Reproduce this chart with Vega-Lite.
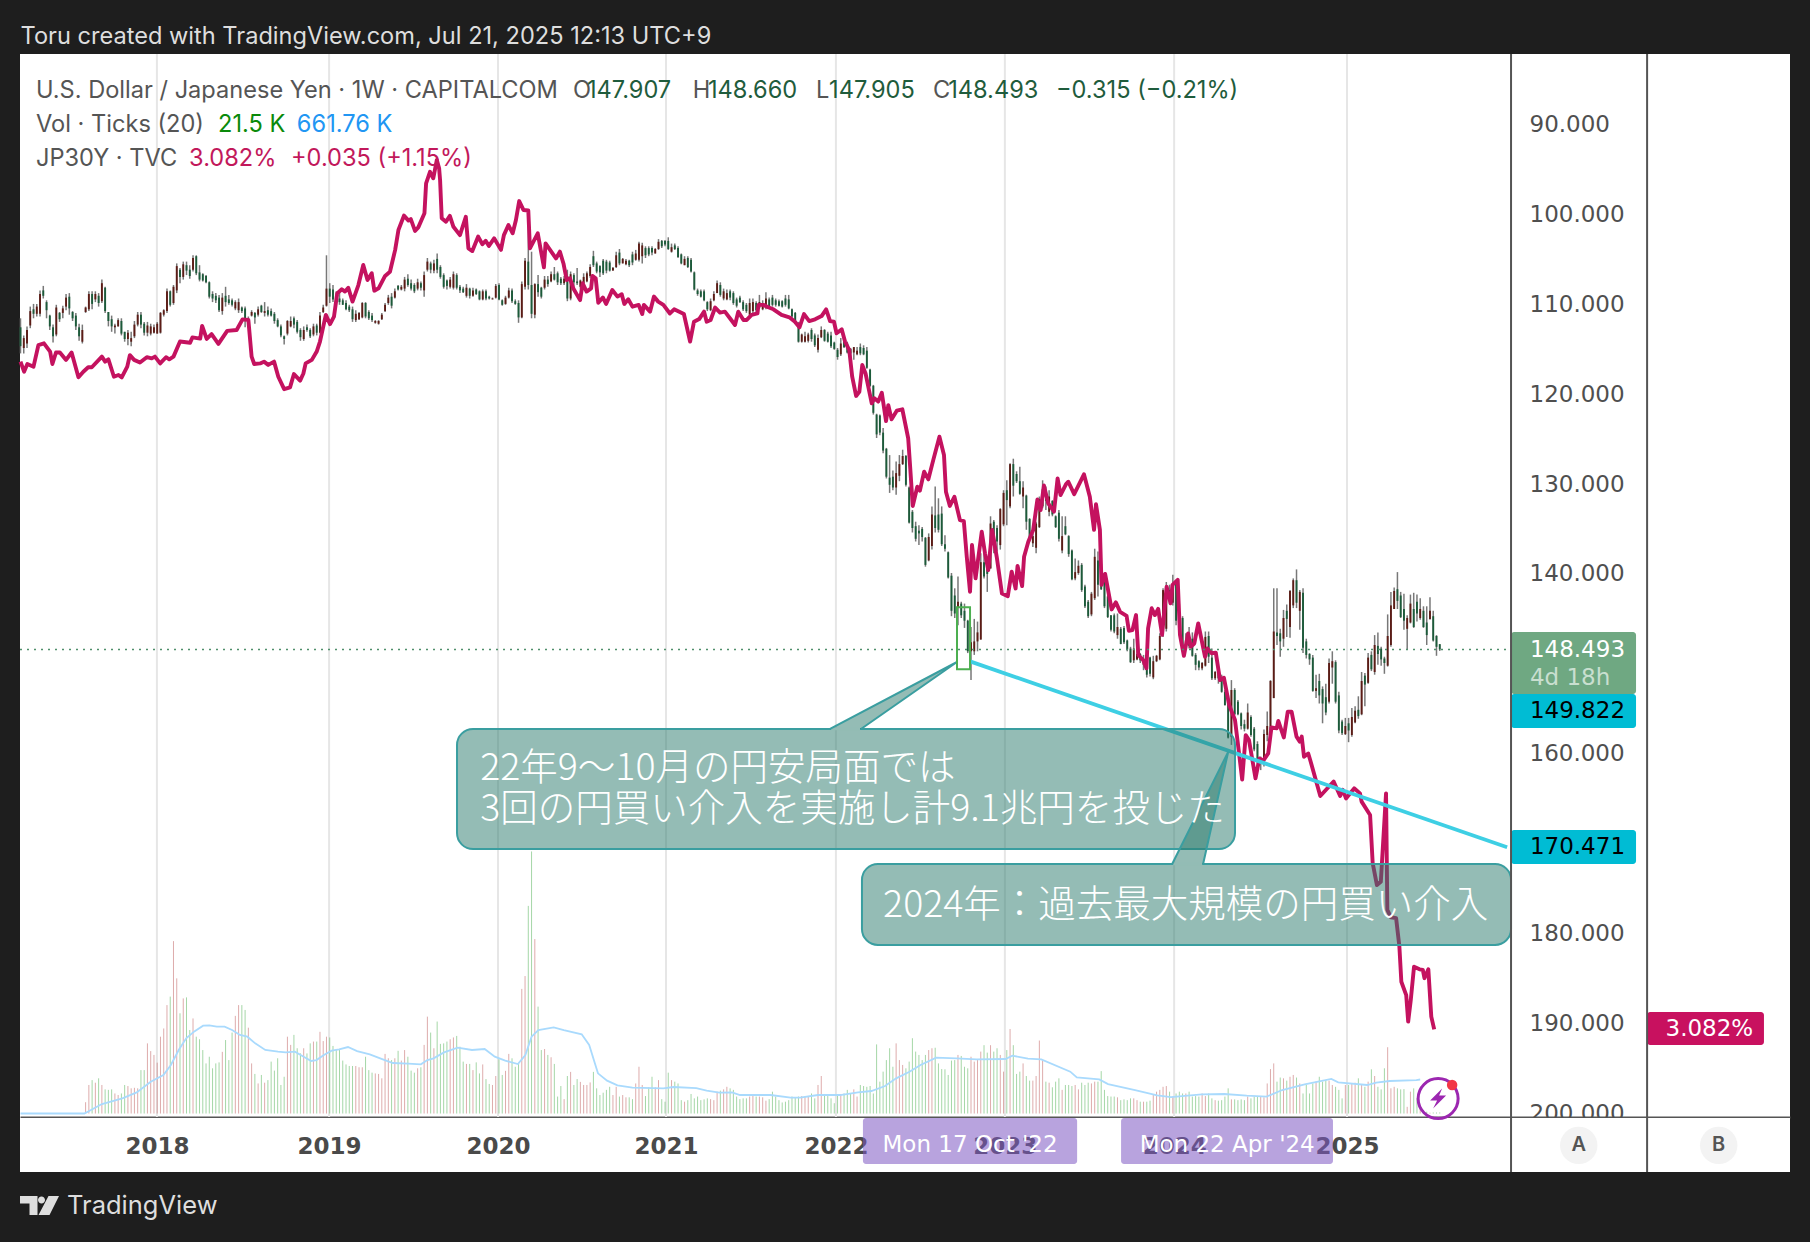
{"$schema":"https://vega.github.io/schema/vega-lite/v6.json","width":1770,"height":1118,"autosize":"none","padding":{"left":20,"top":54,"right":20,"bottom":70},"background":"#1e1e1e","view":{"fill":"#ffffff","stroke":null},"config":{"font":"Inter"},
"datasets":{"grid":[{"p":90},{"p":100},{"p":110},{"p":120},{"p":130},{"p":140},{"p":150},{"p":160},{"p":170},{"p":180},{"p":190},{"p":200}],
"xgrid":[{"w":41.9},{"w":94.8},{"w":146.7},{"w":198.3},{"w":250.5},{"w":302.4},{"w":354.4},{"w":407.5}],
"weeks":[
{"w":0,"o":112.7,"h":115.6,"l":111.7,"c":114.8},{"w":1,"o":115,"h":115.6,"l":113.6,"c":113.9},{"w":2,"o":114.5,"h":115,"l":112.6,"c":113},{"w":3,"o":112.5,"h":112.8,"l":110.4,"c":110.9},{"w":4,"o":110.7,"h":111.7,"l":110.1,"c":111.2},{"w":5,"o":111.2,"h":111.5,"l":110.1,"c":110.4},{"w":6,"o":111.2,"h":111.5,"l":108.6,"c":109},{"w":7,"o":108.6,"h":109.5,"l":108.1,"c":109.2},{"w":8,"o":109.9,"h":111.7,"l":109.7,"c":110.8},{"w":9,"o":111.4,"h":113,"l":111.3,"c":112.6},
{"w":10,"o":112.7,"h":114.4,"l":112.4,"c":113.7},{"w":11,"o":113.5,"h":113.7,"l":110.2,"c":110.5},{"w":12,"o":111.1,"h":112.1,"l":111,"c":111.8},{"w":13,"o":111.1,"h":111.7,"l":110.3,"c":110.6},{"w":14,"o":110.4,"h":110.8,"l":109,"c":109.4},{"w":15,"o":109.3,"h":111.3,"l":108.9,"c":110.6},{"w":16,"o":111,"h":112,"l":110.9,"c":111.7},{"w":17,"o":111.4,"h":113,"l":111.1,"c":112.6},{"w":18,"o":112.7,"h":114.2,"l":112.3,"c":113.7},{"w":19,"o":114.3,"h":114.5,"l":112.4,"c":113},
{"w":20,"o":111,"h":111.1,"l":110.4,"c":110.5,"v":220},{"w":21,"o":110.7,"h":110.9,"l":108.7,"c":109,"v":555},{"w":22,"o":109,"h":110.7,"l":108.7,"c":110.1,"v":650},{"w":23,"o":109.6,"h":109.9,"l":108.7,"c":109,"v":600},{"w":24,"o":109.2,"h":110.4,"l":108.9,"c":110,"v":685},{"w":25,"o":109.8,"h":110,"l":107.4,"c":107.8,"v":555},{"w":26,"o":108.3,"h":111.1,"l":108.2,"c":110.9,"v":470},{"w":27,"o":111,"h":112.6,"l":111,"c":112,"v":460},{"w":28,"o":111.8,"h":113.2,"l":111.4,"c":112.6,"v":470},{"w":29,"o":112.7,"h":113.4,"l":112.3,"c":112.5,"v":390},
{"w":30,"o":112.6,"h":112.6,"l":111.7,"c":111.9,"v":360},{"w":31,"o":112,"h":113.6,"l":111.7,"c":113.4,"v":390},{"w":32,"o":113.2,"h":114.3,"l":113.2,"c":114,"v":555},{"w":33,"o":114,"h":114.7,"l":113,"c":113.3,"v":535},{"w":34,"o":114.3,"h":114.8,"l":113.2,"c":113.9,"v":490},{"w":35,"o":113.7,"h":113.9,"l":112,"c":112.4,"v":500},{"w":36,"o":112.4,"h":112.6,"l":111,"c":111.3,"v":490},{"w":37,"o":111.3,"h":112.8,"l":111,"c":112.4,"v":845},{"w":38,"o":112.3,"h":113.6,"l":112.1,"c":113.3,"v":845},{"w":39,"o":113.3,"h":113.7,"l":112.1,"c":112.5,"v":1365},
{"w":40,"o":113.4,"h":113.6,"l":112.3,"c":112.6,"v":1215},{"w":41,"o":113.3,"h":113.4,"l":112.4,"c":112.7,"v":1140},{"w":42,"o":113.4,"h":113.4,"l":112.1,"c":112.3,"v":990},{"w":43,"o":113.3,"h":113.4,"l":111,"c":111.1,"v":1495},{"w":44,"o":111.3,"h":111.5,"l":110.7,"c":110.8,"v":1655},{"w":45,"o":110.9,"h":111.1,"l":108.4,"c":108.7,"v":2110},{"w":46,"o":108.7,"h":110.4,"l":108.6,"c":110.2,"v":2275},{"w":47,"o":110,"h":110.2,"l":108,"c":108.2,"v":3355},{"w":48,"o":108.6,"h":108.9,"l":105.6,"c":105.9,"v":2630},{"w":49,"o":106.3,"h":107.8,"l":106.1,"c":107.1,"v":1950},
{"w":50,"o":107.1,"h":107.4,"l":105.4,"c":105.7,"v":2240},{"w":51,"o":105.8,"h":106.9,"l":105.4,"c":106.4,"v":2260},{"w":52,"o":106.3,"h":107.3,"l":105.8,"c":107,"v":1625},{"w":53,"o":106.3,"h":106.5,"l":104.7,"c":105,"v":1850},{"w":54,"o":104.8,"h":106.9,"l":104.7,"c":106.7,"v":1495},{"w":55,"o":106.6,"h":107.6,"l":105.8,"c":107.4,"v":1445},{"w":56,"o":106.8,"h":107.6,"l":106.7,"c":107.5,"v":1235},{"w":57,"o":107,"h":107.8,"l":106.9,"c":107.7,"v":975},{"w":58,"o":107.7,"h":109.5,"l":107.6,"c":109.3,"v":1105},{"w":59,"o":109,"h":109.9,"l":108.7,"c":109.5,"v":880},
{"w":60,"o":109.2,"h":110,"l":108.9,"c":109.7,"v":975},{"w":61,"o":109.4,"h":111,"l":109.1,"c":110.8,"v":995},{"w":62,"o":110.9,"h":111.3,"l":108.9,"c":109.4,"v":1200},{"w":63,"o":109.2,"h":110.4,"l":108.2,"c":109.9,"v":1430},{"w":64,"o":109.6,"h":110.2,"l":109.1,"c":110,"v":1040},{"w":65,"o":109.7,"h":110.4,"l":109.5,"c":110.2,"v":1575},{"w":66,"o":110.6,"h":110.8,"l":109.7,"c":109.9,"v":1900},{"w":67,"o":110.8,"h":111.1,"l":109.5,"c":109.9,"v":2110},{"w":68,"o":110.5,"h":111.1,"l":110.4,"c":110.9,"v":2110},{"w":69,"o":110.6,"h":112.7,"l":110.4,"c":112,"v":2015},
{"w":70,"o":112.2,"h":112.7,"l":111.5,"c":111.8,"v":1670},{"w":71,"o":111.4,"h":111.5,"l":110.8,"c":111,"v":975},{"w":72,"o":111.1,"h":112.3,"l":111,"c":111.6,"v":770},{"w":73,"o":111.3,"h":111.5,"l":110.4,"c":110.7,"v":585},{"w":74,"o":110.3,"h":111.1,"l":110.2,"c":111,"v":750},{"w":75,"o":111.1,"h":111.5,"l":109.9,"c":110.9,"v":600},{"w":76,"o":110.8,"h":111.5,"l":110.4,"c":111.3,"v":650},{"w":77,"o":110.9,"h":111.5,"l":110.6,"c":111.4,"v":1010},{"w":78,"o":111.2,"h":112.3,"l":111,"c":112,"v":835},{"w":79,"o":111.9,"h":112.7,"l":111.7,"c":112.6,"v":1075},
{"w":80,"o":112.6,"h":113.8,"l":112.4,"c":113.6,"v":555},{"w":81,"o":113.7,"h":114.6,"l":113.6,"c":114,"v":715},{"w":82,"o":113.4,"h":113.6,"l":111.9,"c":112,"v":1495},{"w":83,"o":112.6,"h":112.7,"l":111.5,"c":112,"v":1335},{"w":84,"o":111.7,"h":112.8,"l":111.5,"c":112.4,"v":1530},{"w":85,"o":112.1,"h":113.4,"l":111.9,"c":113.2,"v":1270},{"w":86,"o":113,"h":114.2,"l":112.8,"c":113.8,"v":1170},{"w":87,"o":114,"h":114.2,"l":112.6,"c":113,"v":1270},{"w":88,"o":112.7,"h":113.2,"l":112.4,"c":113,"v":1170},{"w":89,"o":113,"h":113.9,"l":112.8,"c":113.7,"v":1365},
{"w":90,"o":113.5,"h":113.7,"l":112.3,"c":112.6,"v":1400},{"w":91,"o":112.5,"h":113.6,"l":112.3,"c":113.3,"v":1400},{"w":92,"o":113.3,"h":113.4,"l":111,"c":111.4,"v":1590},{"w":93,"o":111,"h":111.1,"l":110.2,"c":110.5,"v":1410},{"w":94,"o":110.3,"h":110.4,"l":104.7,"c":108.4,"v":1495},{"w":95,"o":108.4,"h":110,"l":107.8,"c":109.3,"v":1480},{"w":96,"o":108.5,"h":109.9,"l":108,"c":109.6,"v":1315},{"w":97,"o":109.3,"h":109.9,"l":108.7,"c":109.8,"v":1235},{"w":98,"o":109.5,"h":110.2,"l":108.6,"c":109.9,"v":1235},{"w":99,"o":109.7,"h":110.2,"l":109.5,"c":110.2,"v":1030},
{"w":100,"o":110,"h":110.8,"l":109.7,"c":110.7,"v":955},{"w":101,"o":110.4,"h":111,"l":110.2,"c":110.8,"v":925},{"w":102,"o":110.7,"h":112.1,"l":110.4,"c":111.8,"v":925},{"w":103,"o":111.9,"h":112.1,"l":110.8,"c":111.2,"v":925},{"w":104,"o":111.8,"h":111.9,"l":111,"c":111.1,"v":900},{"w":105,"o":111.6,"h":111.7,"l":109.9,"c":110,"v":900},{"w":106,"o":110,"h":111.7,"l":109.9,"c":111.5,"v":1105},{"w":107,"o":111,"h":111.9,"l":110.8,"c":111.7,"v":845},{"w":108,"o":111.4,"h":112.1,"l":111.1,"c":111.9,"v":795},{"w":109,"o":112.2,"h":112.3,"l":111.9,"c":112,"v":780},
{"w":110,"o":112.3,"h":112.4,"l":111.9,"c":112,"v":770},{"w":111,"o":111.8,"h":111.9,"l":111.1,"c":111.3,"v":685},{"w":112,"o":110.9,"h":111,"l":110,"c":110.2,"v":1160},{"w":113,"o":110,"h":110.2,"l":109.1,"c":109.4,"v":1075},{"w":114,"o":109.3,"h":110.6,"l":108.9,"c":110.3,"v":1040},{"w":115,"o":109.4,"h":109.5,"l":108.4,"c":108.7,"v":1075},{"w":116,"o":108.1,"h":108.6,"l":108,"c":108.5,"v":1220},{"w":117,"o":108.5,"h":108.6,"l":108,"c":108.2,"v":1030},{"w":118,"o":108.4,"h":108.7,"l":107.1,"c":107.4,"v":1235},{"w":119,"o":107.3,"h":108.2,"l":106.8,"c":108,"v":1105},
{"w":120,"o":107.8,"h":108.6,"l":107.4,"c":108.4,"v":835},{"w":121,"o":108,"h":108.9,"l":107.8,"c":108.7,"v":795},{"w":122,"o":108.4,"h":108.6,"l":107.3,"c":107.7,"v":880},{"w":123,"o":107.8,"h":108.6,"l":107.6,"c":108.3,"v":900},{"w":124,"o":108.6,"h":109.3,"l":106.5,"c":106.9,"v":1335},{"w":125,"o":106.3,"h":106.5,"l":105,"c":105.4,"v":1885},{"w":126,"o":105.6,"h":106.7,"l":105.4,"c":106.3,"v":1575},{"w":127,"o":106.4,"h":106.7,"l":105.2,"c":105.6,"v":1270},{"w":128,"o":105.1,"h":106.7,"l":104.5,"c":106.3,"v":1790},{"w":129,"o":106,"h":107.3,"l":105.8,"c":107.1,"v":1355},
{"w":130,"o":106.9,"h":108.4,"l":106.7,"c":108.2,"v":1365},{"w":131,"o":107.5,"h":108.5,"l":107.4,"c":108.1,"v":1400},{"w":132,"o":108.2,"h":108.4,"l":107.1,"c":107.4,"v":1445},{"w":133,"o":108.3,"h":108.5,"l":106.5,"c":106.8,"v":1480},{"w":134,"o":106.9,"h":108.5,"l":106.7,"c":108.3,"v":1510},{"w":135,"o":108.2,"h":108.9,"l":108,"c":108.6,"v":1300},{"w":136,"o":108.4,"h":108.9,"l":108.2,"c":108.8,"v":1010},{"w":137,"o":109.2,"h":109.4,"l":107.9,"c":108.3,"v":965},{"w":138,"o":108.4,"h":109.5,"l":108.3,"c":109.2,"v":965},{"w":139,"o":109.2,"h":109.3,"l":108.3,"c":108.6,"v":845},
{"w":140,"o":108.5,"h":109.1,"l":108.4,"c":109,"v":995},{"w":141,"o":108.7,"h":109.7,"l":108.6,"c":109.6,"v":780},{"w":142,"o":109.6,"h":109.7,"l":108.5,"c":108.7,"v":955},{"w":143,"o":108.7,"h":109.7,"l":108.5,"c":109.5,"v":670},{"w":144,"o":109.3,"h":109.6,"l":109.2,"c":109.5,"v":575},{"w":145,"o":109.6,"h":109.6,"l":109.4,"c":109.5,"v":555},{"w":146,"o":109.4,"h":109.5,"l":107.9,"c":108.1,"v":730},{"w":147,"o":108,"h":109.7,"l":107.8,"c":109.6,"v":1055},{"w":148,"o":109.7,"h":110.3,"l":109.6,"c":110.2,"v":750},{"w":149,"o":110.1,"h":110.2,"l":109.2,"c":109.4,"v":830},
{"w":150,"o":109.4,"h":109.5,"l":108.3,"c":108.6,"v":1160},{"w":151,"o":108.6,"h":110,"l":108.4,"c":109.8,"v":1075},{"w":152,"o":109.8,"h":110.2,"l":109.6,"c":110.1,"v":910},{"w":153,"o":110,"h":112.2,"l":109.7,"c":111.6,"v":975},{"w":154,"o":111.6,"h":111.7,"l":107.6,"c":107.9,"v":2425},{"w":155,"o":108.2,"h":108.5,"l":105,"c":105.3,"v":2675},{"w":156,"o":105.4,"h":108.5,"l":101.1,"c":108,"v":4040},{"w":157,"o":108,"h":111.7,"l":104.3,"c":111.2,"v":5100},{"w":158,"o":111.3,"h":111.7,"l":107.8,"c":107.9,"v":3395},{"w":159,"o":107.9,"h":109.3,"l":106.9,"c":108.8,"v":2080},
{"w":160,"o":108.3,"h":109.5,"l":108.2,"c":109.3,"v":1235},{"w":161,"o":108.3,"h":108.5,"l":107,"c":107.4,"v":1255},{"w":162,"o":107.4,"h":108.2,"l":107,"c":107.9,"v":1140},{"w":163,"o":107.6,"h":107.7,"l":106.5,"c":106.8,"v":1095},{"w":164,"o":106.8,"h":107.5,"l":106,"c":107.4,"v":965},{"w":165,"o":106.7,"h":108,"l":106.5,"c":107.7,"v":330},{"w":166,"o":107.3,"h":108,"l":107.1,"c":107.8,"v":535},{"w":167,"o":107.8,"h":108,"l":107,"c":107.3,"v":280},{"w":168,"o":107,"h":109.8,"l":106.3,"c":109.5,"v":730},{"w":169,"o":109.5,"h":109.7,"l":106.5,"c":106.8,"v":810},
{"w":170,"o":106.9,"h":108.5,"l":106.7,"c":107.7,"v":555},{"w":171,"o":107.6,"h":108,"l":106.1,"c":107.8,"v":670},{"w":172,"o":108.2,"h":108.4,"l":107.4,"c":107.5,"v":615},{"w":173,"o":107.8,"h":108,"l":106.7,"c":107.1,"v":555},{"w":174,"o":107.6,"h":107.7,"l":106.5,"c":106.7,"v":555},{"w":175,"o":107,"h":107.2,"l":105.7,"c":106,"v":605},{"w":176,"o":104.8,"h":106,"l":104.2,"c":105.8,"v":810},{"w":177,"o":105.6,"h":106.7,"l":105.4,"c":106.5,"v":490},{"w":178,"o":105.9,"h":107.1,"l":105.8,"c":106.6,"v":360},{"w":179,"o":105.3,"h":106.9,"l":105.1,"c":106.7,"v":405},
{"w":180,"o":105.4,"h":106.7,"l":105.2,"c":106.4,"v":460},{"w":181,"o":105.5,"h":106.5,"l":105.3,"c":106.4,"v":520},{"w":182,"o":106.4,"h":106.4,"l":106,"c":106.1,"v":360},{"w":183,"o":106,"h":106.1,"l":104.3,"c":104.7,"v":520},{"w":184,"o":104.4,"h":105.8,"l":104,"c":105.6,"v":330},{"w":185,"o":105.6,"h":105.6,"l":105,"c":105.1,"v":360},{"w":186,"o":105.7,"h":105.8,"l":105.1,"c":105.3,"v":315},{"w":187,"o":105.3,"h":106,"l":105.2,"c":105.8,"v":315},{"w":188,"o":104.6,"h":105.8,"l":104.3,"c":105.5,"v":280},{"w":189,"o":105.2,"h":105.3,"l":104.1,"c":104.5,"v":585},
{"w":190,"o":105.2,"h":105.4,"l":103.2,"c":103.4,"v":910},{"w":191,"o":104.8,"h":105.6,"l":103.3,"c":103.6,"v":555},{"w":192,"o":103.9,"h":105,"l":103.7,"c":104.7,"v":340},{"w":193,"o":103.9,"h":104.8,"l":103.7,"c":104.6,"v":510},{"w":194,"o":103.9,"h":104.7,"l":103.7,"c":104.4,"v":715},{"w":195,"o":104.5,"h":104.5,"l":103.9,"c":104,"v":510},{"w":196,"o":104,"h":104.1,"l":102.9,"c":103.2,"v":650},{"w":197,"o":103.1,"h":103.9,"l":103,"c":103.7,"v":280},{"w":198,"o":103.1,"h":103.7,"l":103,"c":103.5,"v":230},{"w":199,"o":103.1,"h":104.1,"l":102.7,"c":104,"v":795},
{"w":200,"o":104.3,"h":104.4,"l":103.4,"c":103.8,"v":650},{"w":201,"o":103.6,"h":104.1,"l":103.4,"c":104,"v":620},{"w":202,"o":103.9,"h":105,"l":103.7,"c":104.9,"v":585},{"w":203,"o":104.6,"h":105.7,"l":104.5,"c":105.6,"v":260},{"w":204,"o":105.8,"h":105.8,"l":104.8,"c":105.1,"v":230},{"w":205,"o":105,"h":106.1,"l":104.8,"c":106,"v":260},{"w":206,"o":105.2,"h":106.6,"l":105,"c":106.5,"v":380},{"w":207,"o":106.6,"h":108.6,"l":106.5,"c":108.5,"v":295},{"w":208,"o":108.6,"h":109.2,"l":108.4,"c":109,"v":330},{"w":209,"o":108.7,"h":109.4,"l":108.5,"c":109.3,"v":260},
{"w":210,"o":108.7,"h":109.8,"l":108.5,"c":109.7,"v":275},{"w":211,"o":109.9,"h":110.9,"l":109.8,"c":110.7,"v":295},{"w":212,"o":110.8,"h":110.9,"l":109.5,"c":109.8,"v":280},{"w":213,"o":109.7,"h":109.8,"l":108.7,"c":109,"v":260},{"w":214,"o":108.9,"h":108.9,"l":107.5,"c":107.8,"v":425},{"w":215,"o":108,"h":109.3,"l":107.7,"c":109.1,"v":445},{"w":216,"o":109.5,"h":109.7,"l":108.4,"c":108.7,"v":470},{"w":217,"o":109.6,"h":109.7,"l":108.5,"c":108.9,"v":520},{"w":218,"o":108.7,"h":109.7,"l":108.5,"c":109.4,"v":490},{"w":219,"o":108.9,"h":110.2,"l":108.7,"c":110,"v":460},
{"w":220,"o":109.6,"h":110.5,"l":109.4,"c":110.3,"v":330},{"w":221,"o":109.4,"h":110,"l":109.2,"c":109.9,"v":280},{"w":222,"o":109.9,"h":110.9,"l":109.7,"c":110.7,"v":295},{"w":223,"o":110.2,"h":111.1,"l":110,"c":110.9,"v":295},{"w":224,"o":111.3,"h":111.7,"l":109.5,"c":110,"v":330},{"w":225,"o":110.9,"h":111.1,"l":109.5,"c":109.9,"v":360},{"w":226,"o":110,"h":111.1,"l":109.8,"c":110.8,"v":330},{"w":227,"o":110.5,"h":110.6,"l":109.1,"c":109.9,"v":330},{"w":228,"o":110.7,"h":110.8,"l":109.7,"c":110,"v":315},{"w":229,"o":110.5,"h":110.7,"l":108.8,"c":109.5,"v":250},
{"w":230,"o":109.6,"h":110.5,"l":109.4,"c":110.4,"v":280},{"w":231,"o":109.4,"h":110.4,"l":109.1,"c":110.2,"v":425},{"w":232,"o":109.7,"h":110.4,"l":109.5,"c":110.2,"v":330},{"w":233,"o":109.8,"h":110.4,"l":109.6,"c":110.3,"v":260},{"w":234,"o":109.8,"h":110.5,"l":109.7,"c":110.4,"v":215},{"w":235,"o":109.5,"h":110.4,"l":109.1,"c":110.2,"v":230},{"w":236,"o":109.6,"h":110.7,"l":109.1,"c":110.6,"v":260},{"w":237,"o":110.7,"h":111.7,"l":110.6,"c":111.5,"v":330},{"w":238,"o":111.1,"h":112.3,"l":111,"c":112.2,"v":315},{"w":239,"o":112.3,"h":114.4,"l":112.1,"c":114.3,"v":330},
{"w":240,"o":114.3,"h":114.4,"l":113.4,"c":113.5,"v":340},{"w":241,"o":114.3,"h":114.4,"l":113.2,"c":113.7,"v":340},{"w":242,"o":114.2,"h":114.4,"l":113.3,"c":113.5,"v":330},{"w":243,"o":113,"h":114.3,"l":112.8,"c":114,"v":390},{"w":244,"o":113.6,"h":114.9,"l":113.4,"c":114.7,"v":295},{"w":245,"o":115.2,"h":115.5,"l":113.5,"c":113.9,"v":555},{"w":246,"o":113.8,"h":113.9,"l":112.6,"c":113,"v":730},{"w":247,"o":113,"h":114.3,"l":112.9,"c":114.2,"v":380},{"w":248,"o":113.4,"h":114.4,"l":113.2,"c":114.3,"v":340},{"w":249,"o":113.6,"h":115,"l":113.2,"c":114.8,"v":295},
{"w":250,"o":114.4,"h":115.2,"l":114.3,"c":115.1,"v":200},{"w":251,"o":115.2,"h":116.3,"l":115,"c":116,"v":360},{"w":252,"o":115.7,"h":115.9,"l":113.9,"c":114.5,"v":380},{"w":253,"o":114.2,"h":115,"l":114.1,"c":114.9,"v":390},{"w":254,"o":114.5,"h":115.6,"l":114.3,"c":115.5,"v":460},{"w":255,"o":115.1,"h":116.3,"l":115,"c":115.6,"v":390},{"w":256,"o":115.5,"h":116.3,"l":114.9,"c":114.9,"v":470},{"w":257,"o":115.7,"h":115.8,"l":114.9,"c":115.3,"v":330},{"w":258,"o":114.9,"h":115.8,"l":114.5,"c":115.6,"v":555},{"w":259,"o":115,"h":115.8,"l":114.7,"c":115.7,"v":535},
{"w":260,"o":115.3,"h":117.3,"l":114.9,"c":117.2,"v":520},{"w":261,"o":117.4,"h":119.3,"l":117.3,"c":119.2,"v":535},{"w":262,"o":119.2,"h":122.4,"l":119.1,"c":122.2,"v":390},{"w":263,"o":122.4,"h":125,"l":122.3,"c":124.6,"v":1345},{"w":264,"o":122.5,"h":124.7,"l":122.4,"c":124.4,"v":620},{"w":265,"o":124.4,"h":126.7,"l":123.9,"c":126.4,"v":815},{"w":266,"o":126.2,"h":129.5,"l":126.1,"c":129.3,"v":1040},{"w":267,"o":129.4,"h":131.1,"l":126.9,"c":130.2,"v":1270},{"w":268,"o":129.3,"h":130.8,"l":128.6,"c":130.5,"v":910},{"w":269,"o":130.5,"h":131.3,"l":127.6,"c":128.9,"v":1365},
{"w":270,"o":129.2,"h":129.8,"l":126.9,"c":127.9,"v":1040},{"w":271,"o":127.9,"h":128,"l":126.3,"c":127,"v":945},{"w":272,"o":127,"h":130.4,"l":126.9,"c":130.2,"v":880},{"w":273,"o":130.5,"h":134.5,"l":130.4,"c":134.4,"v":1010},{"w":274,"o":133.2,"h":135.5,"l":133,"c":135,"v":1465},{"w":275,"o":134.8,"h":136.5,"l":134.3,"c":136.2,"v":1205},{"w":276,"o":135.3,"h":136.9,"l":134.7,"c":135.6,"v":1140},{"w":277,"o":135.1,"h":136.5,"l":134.9,"c":136,"v":1040},{"w":278,"o":136.1,"h":139.3,"l":136,"c":139.1,"v":1140},{"w":279,"o":138.6,"h":138.7,"l":135.6,"c":136,"v":1235},
{"w":280,"o":137,"h":137.4,"l":132.6,"c":133.5,"v":1270},{"w":281,"o":133.6,"h":135.5,"l":130.4,"c":135,"v":1280},{"w":282,"o":133.5,"h":135.5,"l":131.7,"c":135.2,"v":975},{"w":283,"o":133.4,"h":137,"l":132.6,"c":136.8,"v":865},{"w":284,"o":136.8,"h":137.6,"l":135.8,"c":137.3,"v":860},{"w":285,"o":137.7,"h":140.6,"l":137.6,"c":140.5,"v":750},{"w":286,"o":140.3,"h":144.8,"l":140,"c":144.2,"v":1030},{"w":287,"o":142.5,"h":145,"l":141.7,"c":144.5,"v":1040},{"w":288,"o":143.8,"h":145.8,"l":140.4,"c":143.2,"v":1140},{"w":289,"o":143.4,"h":145,"l":143.2,"c":144.7,"v":1120},
{"w":290,"o":144.2,"h":146.1,"l":143.4,"c":145.3,"v":910},{"w":291,"o":145.3,"h":148.9,"l":145.2,"c":148.7,"v":880},{"w":292,"o":148.7,"h":151.9,"l":146,"c":147.7,"v":1105},{"w":293,"o":148.7,"h":149.1,"l":145.1,"c":147.6,"v":1010},{"w":294,"o":147.6,"h":148.7,"l":145.4,"c":146.6,"v":1040},{"w":295,"o":147.4,"h":147.4,"l":137.8,"c":138.8,"v":1205},{"w":296,"o":138.8,"h":140.6,"l":137.6,"c":140.4,"v":1330},{"w":297,"o":138.9,"h":142.1,"l":138.2,"c":140.1,"v":1185},{"w":298,"o":139.5,"h":139.5,"l":133.7,"c":134.5,"v":1330},{"w":299,"o":134.3,"h":137.8,"l":134.1,"c":136.7,"v":1205},
{"w":300,"o":135,"h":137.6,"l":134.7,"c":136.5,"v":1270},{"w":301,"o":136.9,"h":137.4,"l":132.8,"c":132.9,"v":1140},{"w":302,"o":134.6,"h":134.8,"l":130.8,"c":131.1,"v":815},{"w":303,"o":130.8,"h":134.7,"l":129.7,"c":131.9,"v":1235},{"w":304,"o":132.6,"h":132.8,"l":127.8,"c":127.9,"v":1645},{"w":305,"o":127.9,"h":131.5,"l":127.3,"c":130.3,"v":1330},{"w":306,"o":129,"h":130,"l":128.7,"c":129.8,"v":770},{"w":307,"o":129.8,"h":131.3,"l":128.2,"c":131.2,"v":815},{"w":308,"o":131.5,"h":132.8,"l":129.8,"c":130.5,"v":975},{"w":309,"o":131.4,"h":135.2,"l":131.3,"c":134.3,"v":730},
{"w":310,"o":134,"h":136.5,"l":133.9,"c":136.3,"v":640},{"w":311,"o":136.7,"h":137.1,"l":135.6,"c":135.9,"v":640},{"w":312,"o":137.2,"h":137.8,"l":134.3,"c":134.5,"v":730},{"w":313,"o":134.9,"h":135,"l":131.5,"c":131.8,"v":1420},{"w":314,"o":132.6,"h":132.8,"l":129.7,"c":130.7,"v":1030},{"w":315,"o":130.8,"h":133,"l":130.4,"c":132,"v":620},{"w":316,"o":133.2,"h":133.7,"l":130.8,"c":131.5,"v":600},{"w":317,"o":132,"h":133.7,"l":131.9,"c":133.5,"v":510},{"w":318,"o":133.7,"h":135,"l":133.6,"c":134.9,"v":620},{"w":319,"o":133.3,"h":136.5,"l":133,"c":136.2,"v":685},
{"w":320,"o":137.5,"h":137.8,"l":133.7,"c":135.9,"v":460},{"w":321,"o":134.8,"h":135.8,"l":133.7,"c":135.7,"v":555},{"w":322,"o":135.9,"h":138.2,"l":135.8,"c":137.9,"v":555},{"w":323,"o":137.5,"h":140.8,"l":137.4,"c":140.7,"v":535},{"w":324,"o":140.6,"h":140.8,"l":138.4,"c":139.9,"v":555},{"w":325,"o":140,"h":140.2,"l":138.6,"c":139.2,"v":470},{"w":326,"o":139.1,"h":142.1,"l":138.9,"c":141.9,"v":600},{"w":327,"o":141.5,"h":143.9,"l":141.3,"c":143.7,"v":555},{"w":328,"o":143.2,"h":145,"l":143,"c":144.8,"v":600},{"w":329,"o":144.6,"h":144.8,"l":142.1,"c":142.3,"v":585},
{"w":330,"o":142.8,"h":143,"l":137.3,"c":138.2,"v":620},{"w":331,"o":138.6,"h":142.6,"l":137.6,"c":141.3,"v":620},{"w":332,"o":139,"h":141.9,"l":138.2,"c":141.8,"v":825},{"w":333,"o":141,"h":143.9,"l":140.8,"c":143.7,"v":460},{"w":334,"o":142.6,"h":145,"l":142.4,"c":144.9,"v":340},{"w":335,"o":144.7,"h":146.5,"l":144.7,"c":146.3,"v":330},{"w":336,"o":144.7,"h":146.7,"l":144.5,"c":146.5,"v":330},{"w":337,"o":146.9,"h":147.3,"l":144.5,"c":146,"v":315},{"w":338,"o":146.2,"h":147.9,"l":146,"c":147.9,"v":260},{"w":339,"o":146.1,"h":147.9,"l":145.9,"c":147.7,"v":275},
{"w":340,"o":147.5,"h":148.7,"l":147.4,"c":148.5,"v":260},{"w":341,"o":148.4,"h":150,"l":148.2,"c":149.9,"v":295},{"w":342,"o":149.7,"h":150,"l":147.3,"c":148.4,"v":295},{"w":343,"o":149.6,"h":149.7,"l":148.2,"c":149,"v":260},{"w":344,"o":149,"h":150,"l":148.9,"c":149.7,"v":230},{"w":345,"o":150.2,"h":150.8,"l":149.1,"c":149.6,"v":230},{"w":346,"o":149.5,"h":151.6,"l":149.3,"c":151.3,"v":230},{"w":347,"o":149.4,"h":151.5,"l":149.3,"c":151.2,"v":250},{"w":348,"o":151.6,"h":151.8,"l":149.2,"c":149.8,"v":360},{"w":349,"o":149.8,"h":149.9,"l":149.1,"c":149.2,"v":425},
{"w":350,"o":149.6,"h":149.7,"l":146.7,"c":147,"v":460},{"w":351,"o":146.8,"h":147.1,"l":141.7,"c":141.9,"v":520},{"w":352,"o":146.2,"h":146.5,"l":141,"c":141.5,"v":535},{"w":353,"o":141.9,"h":143.4,"l":141.3,"c":143,"v":425},{"w":354,"o":143.3,"h":143.6,"l":140.2,"c":141.2,"v":330},{"w":355,"o":141,"h":145.8,"l":140.8,"c":145.3,"v":390},{"w":356,"o":144.8,"h":146.5,"l":143.4,"c":146.4,"v":425},{"w":357,"o":145,"h":148.4,"l":144.8,"c":148.2,"v":390},{"w":358,"o":148.3,"h":148.5,"l":146.7,"c":147.5,"v":390},{"w":359,"o":147,"h":148.4,"l":146,"c":148.1,"v":425},
{"w":360,"o":147.3,"h":149.3,"l":146.6,"c":149.2,"v":330},{"w":361,"o":149.1,"h":150.8,"l":148.9,"c":150.2,"v":340},{"w":362,"o":149.8,"h":150.8,"l":149.7,"c":150.5,"v":330},{"w":363,"o":150.6,"h":150.8,"l":149.9,"c":150,"v":390},{"w":364,"o":150.3,"h":150.4,"l":146.5,"c":147.1,"v":340},{"w":365,"o":147,"h":150,"l":146.5,"c":149.3,"v":390},{"w":366,"o":149.4,"h":151.9,"l":148.4,"c":151.7,"v":295},{"w":367,"o":151.7,"h":151.9,"l":150.9,"c":151,"v":260},{"w":368,"o":151.1,"h":152.3,"l":150.9,"c":151.7,"v":250},{"w":369,"o":151.6,"h":153.3,"l":151.3,"c":153.2,"v":260},
{"w":370,"o":153.2,"h":154.7,"l":153,"c":154.7,"v":330},{"w":371,"o":153.6,"h":158.4,"l":153.5,"c":158.3,"v":490},{"w":372,"o":158.2,"h":159.1,"l":151.9,"c":153,"v":275},{"w":373,"o":153,"h":155.8,"l":152.8,"c":155.7,"v":275},{"w":374,"o":154.3,"h":155.8,"l":154.1,"c":155.7,"v":260},{"w":375,"o":155.6,"h":157.4,"l":155.5,"c":157,"v":275},{"w":376,"o":156.8,"h":157.6,"l":156.3,"c":157.3,"v":260},{"w":377,"o":157.3,"h":157.4,"l":154.5,"c":155.5,"v":330},{"w":378,"o":156,"h":158.2,"l":155.8,"c":158,"v":295},{"w":379,"o":157.3,"h":159.8,"l":157.1,"c":159.6,"v":330},
{"w":380,"o":159,"h":161.5,"l":158.7,"c":160.9,"v":340},{"w":381,"o":161,"h":161.9,"l":160.4,"c":160.7,"v":330},{"w":382,"o":161.2,"h":161.5,"l":157.4,"c":157.9,"v":315},{"w":383,"o":158,"h":158.7,"l":155.4,"c":157,"v":585},{"w":384,"o":157.5,"h":157.6,"l":151.9,"c":152,"v":865},{"w":385,"o":153.9,"h":153.9,"l":141.7,"c":146.5,"v":975},{"w":386,"o":146.6,"h":148,"l":141.7,"c":147,"v":620},{"w":387,"o":146.7,"h":149.3,"l":146.2,"c":147.6,"v":700},{"w":388,"o":147.3,"h":148.2,"l":144.1,"c":145,"v":685},{"w":389,"o":144.2,"h":147.1,"l":143.5,"c":145.1,"v":640},
{"w":390,"o":146,"h":147.2,"l":141.9,"c":142,"v":715},{"w":391,"o":143.6,"h":143.9,"l":140.6,"c":140.8,"v":750},{"w":392,"o":140.8,"h":143.9,"l":139.6,"c":143.3,"v":700},{"w":393,"o":144.2,"h":146.3,"l":141.9,"c":142.1,"v":585},{"w":394,"o":142.2,"h":148.9,"l":141.7,"c":148.3,"v":390},{"w":395,"o":147.6,"h":149.5,"l":147.3,"c":149.1,"v":555},{"w":396,"o":149,"h":150.2,"l":148.9,"c":149.6,"v":390},{"w":397,"o":149.4,"h":153.2,"l":149.1,"c":153.1,"v":585},{"w":398,"o":153.1,"h":153.9,"l":151.3,"c":152.8,"v":620},{"w":399,"o":152,"h":154.5,"l":151.2,"c":153.6,"v":715},
{"w":400,"o":152.9,"h":156.7,"l":152.6,"c":154.5,"v":620},{"w":401,"o":153.8,"h":155.8,"l":152.3,"c":155.5,"v":650},{"w":402,"o":154.3,"h":154.5,"l":149.5,"c":150,"v":640},{"w":403,"o":150.5,"h":152.3,"l":148.7,"c":149.8,"v":555},{"w":404,"o":149.9,"h":154.5,"l":149.7,"c":154.3,"v":520},{"w":405,"o":153.6,"h":157.8,"l":153.2,"c":157.5,"v":460},{"w":406,"o":156.5,"h":158,"l":156.3,"c":157.8,"v":295},{"w":407,"o":157.9,"h":158,"l":156.1,"c":157,"v":555},{"w":408,"o":156.7,"h":158.8,"l":156.1,"c":157.5,"v":555},{"w":409,"o":158,"h":158.2,"l":155,"c":156,"v":585},
{"w":410,"o":156.6,"h":156.7,"l":154.8,"c":155.3,"v":600},{"w":411,"o":155.2,"h":156.2,"l":153.7,"c":155.9,"v":685},{"w":412,"o":155.7,"h":155.8,"l":151,"c":152,"v":555},{"w":413,"o":151.4,"h":154.8,"l":151.1,"c":152.4,"v":520},{"w":414,"o":152.2,"h":152.3,"l":148.9,"c":149.4,"v":620},{"w":415,"o":149.1,"h":150.9,"l":148.7,"c":150.7,"v":860},{"w":416,"o":151,"h":151.3,"l":146.9,"c":148,"v":730},{"w":417,"o":148.1,"h":150.2,"l":146.6,"c":149,"v":520},{"w":418,"o":148.4,"h":150.3,"l":148.2,"c":149.6,"v":470},{"w":419,"o":149.5,"h":151.2,"l":149.3,"c":150,"v":880},
{"w":420,"o":150.3,"h":150.4,"l":144.6,"c":147,"v":1290},{"w":421,"o":148,"h":148.2,"l":142.1,"c":143.6,"v":490},{"w":422,"o":144,"h":144,"l":141.6,"c":142,"v":520},{"w":423,"o":141.8,"h":144,"l":139.9,"c":143.1,"v":490},{"w":424,"o":142.5,"h":145,"l":142.1,"c":144.9,"v":470},{"w":425,"o":144,"h":146.3,"l":142.3,"c":145.3,"v":475},{"w":426,"o":146.2,"h":148.5,"l":144.7,"c":145,"v":130},{"w":427,"o":145.5,"h":145.6,"l":142.4,"c":143.4,"v":425},{"w":428,"o":144,"h":146.1,"l":142.2,"c":146,"v":490},{"w":429,"o":143.2,"h":145.4,"l":142.4,"c":144.5,"v":295},
{"w":430,"o":145,"h":145.2,"l":142.8,"c":144,"v":130},{"w":431,"o":144.2,"h":146.1,"l":143.7,"c":146,"v":70},{"w":432,"o":145.5,"h":148,"l":143.7,"c":146.9,"v":35},{"w":433,"o":145.1,"h":145.2,"l":142.7,"c":144.2,"v":15},{"w":434,"o":144.8,"h":147.6,"l":144.2,"c":147.5,"v":20},{"w":435,"o":147,"h":149.2,"l":146.9,"c":148.2,"v":20},{"w":436,"o":147.91,"h":148.66,"l":147.9,"c":148.49,"v":21}],
"yield":[{"w":0,"v":0.824},{"w":1.1,"v":0.858},{"w":2.1,"v":0.832},{"w":4,"v":0.841},{"w":5.5,"v":0.768},{"w":7.2,"v":0.762},{"w":9.1,"v":0.79},{"w":9.8,"v":0.832},{"w":10.9,"v":0.793},{"w":12.1,"v":0.793},{"w":14,"v":0.818},{"w":15.7,"v":0.793},{"w":17.8,"v":0.877},{"w":19.3,"v":0.858},{"w":20.8,"v":0.843},{"w":21.9,"v":0.843},{"w":25,"v":0.807},{"w":26,"v":0.824},{"w":27,"v":0.816},{"w":28.7,"v":0.875},{"w":30.1,"v":0.869},{"w":31.1,"v":0.877},{"w":32.8,"v":0.841},{"w":33.6,"v":0.802},{"w":34.9,"v":0.818},{"w":36.7,"v":0.827},{"w":38.8,"v":0.809},{"w":40.3,"v":0.813},{"w":41.3,"v":0.807},{"w":42.9,"v":0.83},{"w":44.7,"v":0.809},{"w":45.7,"v":0.816},{"w":47,"v":0.807},{"w":49,"v":0.756},{"w":52.1,"v":0.76},{"w":52.8,"v":0.742},{"w":55.2,"v":0.746},{"w":55.8,"v":0.703},{"w":57.2,"v":0.747},{"w":58.7,"v":0.731},{"w":60.8,"v":0.764},{"w":63.5,"v":0.72},{"w":66.4,"v":0.717},{"w":68.2,"v":0.681},{"w":70,"v":0.683},{"w":71,"v":0.807},{"w":71.8,"v":0.832},{"w":73.6,"v":0.83},{"w":74.8,"v":0.824},{"w":76.1,"v":0.835},{"w":77.9,"v":0.824},{"w":79.2,"v":0.875},{"w":81,"v":0.917},{"w":82.8,"v":0.911},{"w":84,"v":0.866},{"w":85.9,"v":0.888},{"w":86.9,"v":0.864},{"w":87.6,"v":0.83},{"w":89.5,"v":0.818},{"w":91,"v":0.79},{"w":92,"v":0.756},{"w":93.8,"v":0.666},{"w":95.1,"v":0.697},{"w":96.3,"v":0.672},{"w":97.3,"v":0.593},{"w":98.7,"v":0.579},{"w":99.7,"v":0.587},{"w":100.7,"v":0.574},{"w":102,"v":0.621},{"w":103.8,"v":0.565},{"w":105.3,"v":0.497},{"w":106.6,"v":0.548},{"w":107.9,"v":0.525},{"w":108.7,"v":0.584},{"w":110,"v":0.576},{"w":112,"v":0.534},{"w":113.5,"v":0.52},{"w":115.1,"v":0.446},{"w":116.1,"v":0.379},{"w":117.8,"v":0.33},{"w":119.2,"v":0.347},{"w":119.9,"v":0.342},{"w":121.2,"v":0.382},{"w":122.2,"v":0.37},{"w":124.1,"v":0.322},{"w":124.6,"v":0.221},{"w":125.8,"v":0.182},{"w":126.8,"v":0.204},{"w":127.9,"v":0.142},{"w":128.6,"v":0.17},{"w":128.9,"v":0.21},{"w":129.4,"v":0.339},{"w":130.7,"v":0.351},{"w":131.9,"v":0.331},{"w":133,"v":0.368},{"w":135,"v":0.396},{"w":136.8,"v":0.334},{"w":137.6,"v":0.441},{"w":138.8,"v":0.45},{"w":140.6,"v":0.401},{"w":141.9,"v":0.427},{"w":142.9,"v":0.415},{"w":143.9,"v":0.433},{"w":145.5,"v":0.407},{"w":147.6,"v":0.446},{"w":148.5,"v":0.396},{"w":149.9,"v":0.362},{"w":151.2,"v":0.39},{"w":152.2,"v":0.345},{"w":153.2,"v":0.281},{"w":154.5,"v":0.311},{"w":156,"v":0.313},{"w":156.5,"v":0.441},{"w":158.9,"v":0.39},{"w":160.8,"v":0.505},{"w":161.3,"v":0.424},{"w":164.5,"v":0.475},{"w":165.7,"v":0.452},{"w":166.8,"v":0.492},{"w":167.8,"v":0.548},{"w":168.8,"v":0.542},{"w":169.8,"v":0.576},{"w":171.9,"v":0.616},{"w":172.7,"v":0.559},{"w":173.9,"v":0.587},{"w":175.3,"v":0.576},{"w":175.7,"v":0.534},{"w":176.7,"v":0.542},{"w":177.5,"v":0.625},{"w":178.9,"v":0.607},{"w":179.9,"v":0.629},{"w":181.8,"v":0.582},{"w":183.4,"v":0.604},{"w":184.7,"v":0.596},{"w":185.5,"v":0.629},{"w":186.7,"v":0.613},{"w":188,"v":0.638},{"w":189.9,"v":0.632},{"w":191,"v":0.663},{"w":191.5,"v":0.632},{"w":193.4,"v":0.655},{"w":194.6,"v":0.604},{"w":195.9,"v":0.621},{"w":197.5,"v":0.632},{"w":199.5,"v":0.661},{"w":200.8,"v":0.647},{"w":203.8,"v":0.663},{"w":205.7,"v":0.756},{"w":206.9,"v":0.689},{"w":208.5,"v":0.68},{"w":210,"v":0.655},{"w":210.8,"v":0.689},{"w":212,"v":0.683},{"w":213.4,"v":0.641},{"w":214.9,"v":0.658},{"w":216.4,"v":0.655},{"w":218,"v":0.678},{"w":219.5,"v":0.7},{"w":220.5,"v":0.655},{"w":222.1,"v":0.683},{"w":223.1,"v":0.683},{"w":224.6,"v":0.666},{"w":226.4,"v":0.661},{"w":226.7,"v":0.632},{"w":228.2,"v":0.632},{"w":229.7,"v":0.64},{"w":231.3,"v":0.647},{"w":233.8,"v":0.666},{"w":236.2,"v":0.674},{"w":237.9,"v":0.689},{"w":239.3,"v":0.708},{"w":240.7,"v":0.663},{"w":242.3,"v":0.687},{"w":244.1,"v":0.681},{"w":246.1,"v":0.67},{"w":247.5,"v":0.647},{"w":248.7,"v":0.687},{"w":249.9,"v":0.689},{"w":250.7,"v":0.728},{"w":252.3,"v":0.715},{"w":253.3,"v":0.756},{"w":254.6,"v":0.785},{"w":255.5,"v":0.875},{"w":256.7,"v":0.94},{"w":257.7,"v":0.926},{"w":258.6,"v":0.835},{"w":259.6,"v":0.864},{"w":261.5,"v":0.965},{"w":262.3,"v":0.948},{"w":263.5,"v":0.959},{"w":264.6,"v":0.929},{"w":265.9,"v":1.025},{"w":266.6,"v":0.971},{"w":267.6,"v":1.019},{"w":269.2,"v":0.99},{"w":270.9,"v":0.985},{"w":272.7,"v":1.083},{"w":273.3,"v":1.179},{"w":274.1,"v":1.312},{"w":275.5,"v":1.247},{"w":276.3,"v":1.26},{"w":277.6,"v":1.196},{"w":278.9,"v":1.222},{"w":280.4,"v":1.157},{"w":282.3,"v":1.078},{"w":283.7,"v":1.14},{"w":284.3,"v":1.264},{"w":285.5,"v":1.312},{"w":286.9,"v":1.281},{"w":288.6,"v":1.36},{"w":289.8,"v":1.363},{"w":290.7,"v":1.484},{"w":291.7,"v":1.602},{"w":292.3,"v":1.444},{"w":293.4,"v":1.557},{"w":295.3,"v":1.399},{"w":296.3,"v":1.472},{"w":297.3,"v":1.529},{"w":298.5,"v":1.393},{"w":299.9,"v":1.484},{"w":301.5,"v":1.608},{"w":303.3,"v":1.617},{"w":304.5,"v":1.534},{"w":305.7,"v":1.591},{"w":306.3,"v":1.515},{"w":307.7,"v":1.583},{"w":308.3,"v":1.484},{"w":309.6,"v":1.433},{"w":311.1,"v":1.393},{"w":312.4,"v":1.29},{"w":313.4,"v":1.326},{"w":314.4,"v":1.243},{"w":315.7,"v":1.303},{"w":317.5,"v":1.331},{"w":318.6,"v":1.219},{"w":319.5,"v":1.275},{"w":321.2,"v":1.238},{"w":321.9,"v":1.23},{"w":323.7,"v":1.272},{"w":326.7,"v":1.205},{"w":328.5,"v":1.281},{"w":329.8,"v":1.393},{"w":330.4,"v":1.306},{"w":331.6,"v":1.393},{"w":332.1,"v":1.579},{"w":333.2,"v":1.542},{"w":335.2,"v":1.662},{"w":336.5,"v":1.638},{"w":337.8,"v":1.67},{"w":339.8,"v":1.684},{"w":340.5,"v":1.734},{"w":341.6,"v":1.732},{"w":342.7,"v":1.681},{"w":343.4,"v":1.816},{"w":344.9,"v":1.833},{"w":345.9,"v":1.861},{"w":346.4,"v":1.726},{"w":347.5,"v":1.658},{"w":348.5,"v":1.681},{"w":349.5,"v":1.66},{"w":350.7,"v":1.748},{"w":352.1,"v":1.585},{"w":353.3,"v":1.641},{"w":353.9,"v":1.579},{"w":355.5,"v":1.562},{"w":356.2,"v":1.748},{"w":357.4,"v":1.819},{"w":358.7,"v":1.743},{"w":359.5,"v":1.788},{"w":360.6,"v":1.777},{"w":361.8,"v":1.709},{"w":363.9,"v":1.822},{"w":364.6,"v":1.794},{"w":365.9,"v":1.81},{"w":367.2,"v":1.808},{"w":368.5,"v":1.901},{"w":369.7,"v":1.893},{"w":371.3,"v":1.985},{"w":373.1,"v":2.036},{"w":374.1,"v":2.126},{"w":375.3,"v":2.237},{"w":376.4,"v":2.087},{"w":377.4,"v":2.104},{"w":379.4,"v":2.233},{"w":380.6,"v":2.166},{"w":381.8,"v":2.173},{"w":383.3,"v":2.149},{"w":384.3,"v":2.061},{"w":385.9,"v":2.064},{"w":386.4,"v":2.039},{"w":388.1,"v":2.095},{"w":389.3,"v":2.008},{"w":390.5,"v":2.008},{"w":392,"v":2.092},{"w":393,"v":2.109},{"w":393.6,"v":2.092},{"w":394.3,"v":2.16},{"w":395.6,"v":2.149},{"w":396.2,"v":2.171},{"w":399.3,"v":2.293},{"w":403.4,"v":2.244},{"w":405.4,"v":2.293},{"w":406.2,"v":2.272},{"w":407.2,"v":2.301},{"w":409.7,"v":2.267},{"w":411.5,"v":2.284},{"w":412,"v":2.312},{"w":414.6,"v":2.357},{"w":415.4,"v":2.52},{"w":416.7,"v":2.594},{"w":417.9,"v":2.583},{"w":419.5,"v":2.284},{"w":419.9,"v":2.678},{"w":421,"v":2.703},{"w":422.6,"v":2.706},{"w":423.6,"v":2.802},{"w":424.2,"v":2.921},{"w":425.7,"v":2.966},{"w":426.3,"v":3.056},{"w":427.1,"v":2.983},{"w":428.1,"v":2.87},{"w":429.8,"v":2.879},{"w":430.8,"v":2.881},{"w":431.3,"v":2.909},{"w":432.5,"v":2.879},{"w":433.4,"v":3.039},{"w":434.3,"v":3.082}],
"ma":[{"w":0,"m":0},{"w":19.6,"m":0},{"w":21.1,"m":49},{"w":25,"m":185},{"w":31.3,"m":295},{"w":35.7,"m":412},{"w":40,"m":620},{"w":43.9,"m":749},{"w":46.2,"m":944},{"w":48.6,"m":1236},{"w":50.9,"m":1463},{"w":53.3,"m":1593},{"w":56.1,"m":1709},{"w":58,"m":1716},{"w":60.3,"m":1690},{"w":62.7,"m":1690},{"w":65,"m":1625},{"w":67.4,"m":1528},{"w":69.7,"m":1495},{"w":72.1,"m":1366},{"w":75.2,"m":1236},{"w":79.1,"m":1203},{"w":81.5,"m":1190},{"w":84.3,"m":1203},{"w":87,"m":1106},{"w":89.3,"m":1022},{"w":90.9,"m":1041},{"w":93.2,"m":1139},{"w":95.6,"m":1223},{"w":97.9,"m":1249},{"w":100.6,"m":1294},{"w":103.4,"m":1216},{"w":107.3,"m":1152},{"w":111.3,"m":1054},{"w":114.4,"m":983},{"w":119.1,"m":970},{"w":123,"m":957},{"w":125,"m":1041},{"w":126.9,"m":1074},{"w":130.1,"m":1190},{"w":134.3,"m":1281},{"w":138.7,"m":1236},{"w":142.6,"m":1255},{"w":145.7,"m":1106},{"w":148.9,"m":1028},{"w":152.8,"m":963},{"w":155.1,"m":1139},{"w":157,"m":1495},{"w":159.1,"m":1625},{"w":163.8,"m":1677},{"w":166.9,"m":1625},{"w":172.4,"m":1541},{"w":174.7,"m":1333},{"w":177.4,"m":782},{"w":180.2,"m":639},{"w":183.4,"m":548},{"w":188,"m":503},{"w":197.5,"m":490},{"w":200.6,"m":516},{"w":207.6,"m":496},{"w":210.8,"m":444},{"w":214.7,"m":405},{"w":218.6,"m":412},{"w":221,"m":360},{"w":230.4,"m":360},{"w":236.6,"m":308},{"w":239.5,"m":308},{"w":245,"m":360},{"w":251.8,"m":360},{"w":257.3,"m":412},{"w":261.4,"m":438},{"w":265.6,"m":535},{"w":269,"m":685},{"w":273.1,"m":814},{"w":276.5,"m":944},{"w":281.3,"m":1087},{"w":287.5,"m":1074},{"w":293.7,"m":1054},{"w":302.6,"m":1061},{"w":304.7,"m":1126},{"w":309.5,"m":1067},{"w":313.6,"m":1054},{"w":322.5,"m":814},{"w":324.5,"m":704},{"w":331.4,"m":665},{"w":334.1,"m":574},{"w":342.4,"m":457},{"w":349.2,"m":354},{"w":353.4,"m":321},{"w":362.9,"m":373},{"w":369.8,"m":380},{"w":376.7,"m":347},{"w":382.8,"m":328},{"w":387.6,"m":457},{"w":394.5,"m":568},{"w":402.7,"m":672},{"w":404.8,"m":607},{"w":413.7,"m":555},{"w":416.5,"m":600},{"w":420.6,"m":633},{"w":428.8,"m":650},{"w":430,"m":662}],
"boxes":[{"a":134.1,"b":373.1,"t":157.33,"u":170.67},{"a":258.5,"b":457.9,"t":172.33,"u":181.33}],
"tail":[{"s":"t1","w":248.7,"p":157.33,"p2":157.33},{"s":"t1","w":258.2,"p":155.51,"p2":157.33},{"s":"t1","w":287.7,"p":149.89,"p2":149.89},{"s":"t2","w":353.8,"p":172.33,"p2":172.33},{"s":"t2","w":363.3,"p":165.44,"p2":172.33},{"s":"t2","w":371,"p":159.89,"p2":159.89}],
"tailBase":[{"s":"t1","w":249,"p":157.33},{"s":"t1","w":257.9,"p":157.33},{"s":"t2","w":354.1,"p":172.33},{"s":"t2","w":363,"p":172.33}],
"tailEdge":[{"s":"t1","i":1,"w":248.7,"p":157.33},{"s":"t1","i":2,"w":287.7,"p":149.89},{"s":"t1","i":3,"w":258.2,"p":157.33},{"s":"t2","i":1,"w":353.8,"p":172.33},{"s":"t2","i":2,"w":371,"p":159.89},{"s":"t2","i":3,"w":363.3,"p":172.33}],
"tags":[{"k":"close","a":457.9,"b":496.3,"t":146.56,"u":153.44},{"k":"cyan","a":457.9,"b":496.3,"t":153.44,"u":157.22},{"k":"cyan","a":457.9,"b":496.3,"t":168.56,"u":172.33}],
"dateBoxes":[{"a":258.8,"b":324.6,"t":200.56,"u":205.67},{"a":338.1,"b":403.2,"t":200.56,"u":205.67}],
"labels":[{"w":0,"p":80.44,"k":"head","x":"Toru created with TradingView.com, Jul 21, 2025 12:13 UTC+9"},{"w":4.76,"p":86.39,"k":"gray","x":"U.S. Dollar / Japanese Yen · 1W · CAPITALCOM"},{"w":169.7,"p":86.39,"k":"gray","x":"O"},{"w":174,"p":86.39,"k":"ohlc","x":"147.907"},{"w":206.5,"p":86.39,"k":"gray","x":"H"},{"w":211.2,"p":86.39,"k":"ohlc","x":"148.660"},{"w":244.4,"p":86.39,"k":"gray","x":"L"},{"w":248.4,"p":86.39,"k":"ohlc","x":"147.905"},{"w":280.3,"p":86.39,"k":"gray","x":"C"},{"w":285,"p":86.39,"k":"ohlc","x":"148.493"},{"w":318.1,"p":86.39,"k":"ohlc","x":"−0.315 (−0.21%)"},{"w":4.76,"p":90.17,"k":"gray","x":"Vol · Ticks (20)"},{"w":60.7,"p":90.17,"k":"vg","x":"21.5 K"},{"w":84.9,"p":90.17,"k":"vb","x":"661.76 K"},{"w":4.76,"p":94,"k":"gray","x":"JP30Y · TVC"},{"w":51.8,"p":94,"k":"yld","x":"3.082%"},{"w":83.1,"p":94,"k":"yld","x":"+0.035 (+1.15%)"}],
"taglabels":[{"w":463.7,"p":148.56,"k":"white","x":"148.493"},{"w":463.7,"p":151.67,"k":"dim","x":"4d 18h"},{"w":463.7,"p":155.33,"k":"black","x":"149.822"},{"w":463.7,"p":170.44,"k":"black","x":"170.471"}],
"dates":[{"w":291.7,"p":203.56,"x":"Mon 17 Oct '22"},{"w":370.7,"p":203.56,"x":"Mon 22 Apr '24"}],
"notes":[{"w":141.2,"p":161.8,"x":"22年9〜10月の円安局面では"},{"w":141.2,"p":166.35,"x":"3回の円買い介入を実施し計9.1兆円を投じた"},{"w":265,"p":177.02,"x":"2024年：過去最大規模の円買い介入"}],
"badges":[{"w":478.7,"p":203.6,"x":"A"},{"w":521.7,"p":203.6,"x":"B"}]},
"encoding":{"x":{"field":"w","type":"quantitative","scale":{"domain":[-0.154,543.6],"nice":false,"zero":false},"axis":{"orient":"bottom","offset":-55,"title":null,"values":[41.9,94.8,146.7,198.3,250.5,302.4,354.4,407.5],"labelExpr":"2018+indexof([41.9,94.8,146.7,198.3,250.5,302.4,354.4,407.5],datum.value)","labelFont":"DejaVu Sans","labelFontSize":23,"labelFontWeight":600,"labelColor":"#4a4a4a","labelPadding":18,"labelFlush":false,"labelOverlap":false,"ticks":false,"grid":false,"domainColor":"#555555","domainWidth":2,"zindex":0}}},
"layer":[
{"layer":[{"data":{"name":"grid"},"mark":{"type":"rule","color":"#e6e6e6","strokeWidth":2},"encoding":{"x":{"datum":-0.154},"x2":{"datum":457.9},"y":{"field":"p","type":"quantitative","scale":{"domain":[206.556,82.333],"nice":false,"zero":false},"axis":{"orient":"right","offset":-279,"title":null,"values":[90,100,110,120,130,140,150,160,170,180,190,200],"format":".3f","labelFont":"DejaVu Sans","labelFontSize":23,"labelColor":"#4f4f4f","labelAlign":"left","labelPadding":18,"labelBaseline":"middle","labelOffset":1,"ticks":false,"domain":false,"grid":false,"zindex":0}}}},
{"data":{"name":"xgrid"},"mark":{"type":"rule","color":"#e6e6e6","strokeWidth":2},"encoding":{"y":{"datum":82.333},"y2":{"datum":200.44}}}]},
{"layer":[{"data":{"name":"weeks"},"mark":{"type":"rule","strokeWidth":1},"encoding":{"y":{"field":"v","type":"quantitative","scale":{"domain":[-1138,20618],"nice":false,"zero":false},"axis":null},"y2":{"datum":0},"color":{"condition":{"test":"datum.c>datum.o","value":"rgba(76,175,80,0.5)"},"value":"rgba(190,90,90,0.5)"}}},{"data":{"name":"ma"},"mark":{"type":"line","color":"#a9dafd","strokeWidth":1.8},"encoding":{"y":{"field":"m","type":"quantitative","scale":{"domain":[-1138,20618],"nice":false,"zero":false},"axis":null}}}]},
{"layer":[{"data":{"name":"weeks"},"mark":{"type":"rule","color":"#787878","strokeWidth":1.5},"encoding":{"y":{"field":"l","type":"quantitative","scale":{"domain":[206.556,82.333],"nice":false,"zero":false},"axis":null},"y2":{"field":"h"}}},{"data":{"name":"weeks"},"mark":{"type":"rule","strokeWidth":1.9},"encoding":{"y":{"field":"o","type":"quantitative","scale":{"domain":[206.556,82.333],"nice":false,"zero":false},"axis":null},"y2":{"field":"c"},"color":{"condition":{"test":"datum.c>datum.o","value":"#1c5b3a"},"value":"#5c1c16"}}}]},
{"layer":[{"data":{"name":"yield"},"mark":{"type":"line","color":"#c4125f","strokeWidth":3.9,"strokeJoin":"round"},"encoding":{"y":{"field":"v","type":"quantitative","scale":{"domain":[3.5644,-0.2164],"nice":false,"zero":false},"axis":{"orient":"right","offset":-143,"title":null,"values":[0,0.5,1,1.5,2,2.5,3],"labelExpr":"format(datum.value,'.3f')+'%'","labelFont":"DejaVu Sans","labelFontSize":23,"labelColor":"#4f4f4f","labelAlign":"right","labelPadding":106,"labelBaseline":"middle","ticks":false,"domain":false,"grid":false,"zindex":0}}}},
{"data":{"values":[{"a":499.7,"b":535.6,"t":3.023,"u":3.135}]},"mark":{"type":"rect","color":"#c8115f","cornerRadius":3},"encoding":{"x":{"field":"a","type":"quantitative"},"x2":{"field":"b"},"y":{"field":"t","type":"quantitative","scale":{"domain":[3.5644,-0.2164],"nice":false,"zero":false},"axis":null},"y2":{"field":"u"}}},
{"data":{"values":[{"w":532.3,"v":3.082,"x":"3.082%"}]},"mark":{"type":"text","color":"#ffffff","font":"DejaVu Sans","fontSize":23,"align":"right","baseline":"middle"},"encoding":{"y":{"field":"v","type":"quantitative","scale":{"domain":[3.5644,-0.2164],"nice":false,"zero":false},"axis":null},"text":{"field":"x"}}}]},
{"encoding":{"y":{"field":"p","type":"quantitative","scale":{"domain":[206.556,82.333],"nice":false,"zero":false},"axis":null}},"layer":[
{"data":{"values":[{"w":291.7,"p":149.822},{"w":456.7,"p":170.471}]},"mark":{"type":"line","color":"#3ecfe4","strokeWidth":3.8}},
{"data":{"name":"boxes"},"mark":{"type":"rect","fill":"#2a7a6c","fillOpacity":0.5,"stroke":"#3a9ea0","strokeWidth":2,"cornerRadius":16},"encoding":{"x":{"field":"a","type":"quantitative"},"x2":{"field":"b"},"y":{"field":"t","type":"quantitative","scale":{"domain":[206.556,82.333],"nice":false,"zero":false}},"y2":{"field":"u"}}},
{"data":{"name":"tail"},"mark":{"type":"area","color":"#2a7a6c","opacity":0.5},"encoding":{"detail":{"field":"s"},"y2":{"field":"p2"}}},
{"data":{"name":"tailBase"},"mark":{"type":"line","color":"#93bcb5","strokeWidth":2.6},"encoding":{"detail":{"field":"s"}}},
{"data":{"name":"tailEdge"},"mark":{"type":"line","color":"#3a9ea0","strokeWidth":2},"encoding":{"detail":{"field":"s"},"order":{"field":"i"}}},
{"data":{"name":"notes"},"mark":{"type":"text","color":"#ffffff","font":"Noto Sans CJK JP","fontWeight":300,"fontSize":37.5,"align":"left","baseline":"middle"},"encoding":{"text":{"field":"x"}}},
{"data":{"values":[{"w":291.7},{"w":370.3}]},"mark":{"type":"rule","color":"#7e57c2","opacity":0.55,"strokeWidth":3.4},"encoding":{"y":{"datum":82.333,"scale":{"domain":[206.556,82.333],"nice":false,"zero":false}},"y2":{"datum":200.44}}},
{"data":{"values":[{"a":287.7,"b":291.7,"t":143.8,"u":150.7}]},"mark":{"type":"rect","fillOpacity":0,"stroke":"#4caf50","strokeWidth":2},"encoding":{"x":{"field":"a","type":"quantitative"},"x2":{"field":"b"},"y":{"field":"t","type":"quantitative","scale":{"domain":[206.556,82.333],"nice":false,"zero":false}},"y2":{"field":"u"}}},
{"data":{"values":[{"w":-0.154,"p":148.493,"b":457.9}]},"mark":{"type":"rule","color":"#4f8f6b","strokeWidth":1.5,"strokeDash":[2,5]},"encoding":{"x2":{"field":"b"}}},
{"data":{"values":[{"a":-0.154,"b":543.6,"t":200.56,"u":201.6}]},"mark":{"type":"rect","color":"#ffffff"},"encoding":{"x":{"field":"a","type":"quantitative"},"x2":{"field":"b"},"y":{"field":"t","type":"quantitative","scale":{"domain":[206.556,82.333],"nice":false,"zero":false}},"y2":{"field":"u"}}},
{"data":{"name":"tags"},"mark":{"type":"rect","cornerRadius":3},"encoding":{"x":{"field":"a","type":"quantitative"},"x2":{"field":"b"},"y":{"field":"t","type":"quantitative","scale":{"domain":[206.556,82.333],"nice":false,"zero":false}},"y2":{"field":"u"},"color":{"field":"k","type":"nominal","legend":null,"scale":{"domain":["head","gray","ohlc","vg","vb","yld","white","dim","black","close","cyan"],"range":["#dedede","#555555","#1f5c3c","#0a8a0a","#2196f3","#c2185b","#ffffff","#c9dfd0","#000000","#6fa882","#00bcd4"]}}}},
{"data":{"name":"dateBoxes"},"mark":{"type":"rect","cornerRadius":3,"color":"#7e57c2","opacity":0.55},"encoding":{"x":{"field":"a","type":"quantitative"},"x2":{"field":"b"},"y":{"field":"t","type":"quantitative","scale":{"domain":[206.556,82.333],"nice":false,"zero":false}},"y2":{"field":"u"}}},
{"data":{"values":[{"w":457.9,"b":82.333,"u":206.556},{"w":499.7,"b":82.333,"u":206.556}]},"mark":{"type":"rule","color":"#555555","strokeWidth":2},"encoding":{"y":{"field":"b","type":"quantitative","scale":{"domain":[206.556,82.333],"nice":false,"zero":false}},"y2":{"field":"u"}}},
{"data":{"name":"labels"},"mark":{"type":"text","font":"Inter","fontSize":23.6,"align":"left","baseline":"middle"},"encoding":{"text":{"field":"x"},"color":{"field":"k","type":"nominal","legend":null,"scale":{"domain":["head","gray","ohlc","vg","vb","yld","white","dim","black","close","cyan"],"range":["#dedede","#555555","#1f5c3c","#0a8a0a","#2196f3","#c2185b","#ffffff","#c9dfd0","#000000","#6fa882","#00bcd4"]}}}},
{"data":{"name":"taglabels"},"mark":{"type":"text","font":"DejaVu Sans","fontSize":23,"align":"left","baseline":"middle"},"encoding":{"text":{"field":"x"},"color":{"field":"k","type":"nominal","legend":null,"scale":{"domain":["head","gray","ohlc","vg","vb","yld","white","dim","black","close","cyan"],"range":["#dedede","#555555","#1f5c3c","#0a8a0a","#2196f3","#c2185b","#ffffff","#c9dfd0","#000000","#6fa882","#00bcd4"]}}}},
{"data":{"values":[{"w":14.3,"p":210.33,"x":"TradingView"}]},"mark":{"type":"text","font":"Inter","fontSize":25.5,"color":"#dedede","align":"left","baseline":"middle"},"encoding":{"text":{"field":"x"}}},
{"data":{"name":"dates"},"mark":{"type":"text","font":"DejaVu Sans","fontSize":23,"color":"#ffffff","align":"center","baseline":"middle"},"encoding":{"text":{"field":"x"}}},
{"data":{"name":"badges"},"mark":{"type":"point","filled":true,"shape":"circle","size":1400,"color":"#f3f3f3","opacity":1}},
{"data":{"name":"badges"},"mark":{"type":"text","font":"Inter","fontSize":20,"fontWeight":600,"color":"#555555","align":"center","baseline":"middle"},"encoding":{"text":{"field":"x"}}},
{"data":{"values":[{"w":435.5,"p":198.4}]},"mark":{"type":"point","shape":"circle","size":1600,"color":"#9c27b0","strokeWidth":3,"opacity":1,"filled":false}},
{"data":{"values":[{"w":435.5,"p":198.4}]},"mark":{"type":"point","shape":"M4,-10 L-8,2 L-1,2 L-5,10 L8,-3 L1,-3 Z","size":4,"color":"#9c27b0","filled":true,"opacity":1}},
{"data":{"values":[{"w":439.8,"p":196.89}]},"mark":{"type":"point","shape":"circle","size":110,"color":"#f23645","filled":true,"opacity":1}},
{"data":{"values":[{"w":5.84,"p":210.28}]},"mark":{"type":"point","shape":"M-19.5,-9.5 H-2 V9.5 H-10 V-2 H-19.5 Z M5.5,-5.5 a3.5,3.5 0 1 1 -7,0 a3.5,3.5 0 1 1 7,0 Z M9,-9.5 H19.5 L10,9.5 H-1 Z","size":4,"color":"#dedede","filled":true,"opacity":1}}
]}
],
"resolve":{"scale":{"y":"independent"}}}
